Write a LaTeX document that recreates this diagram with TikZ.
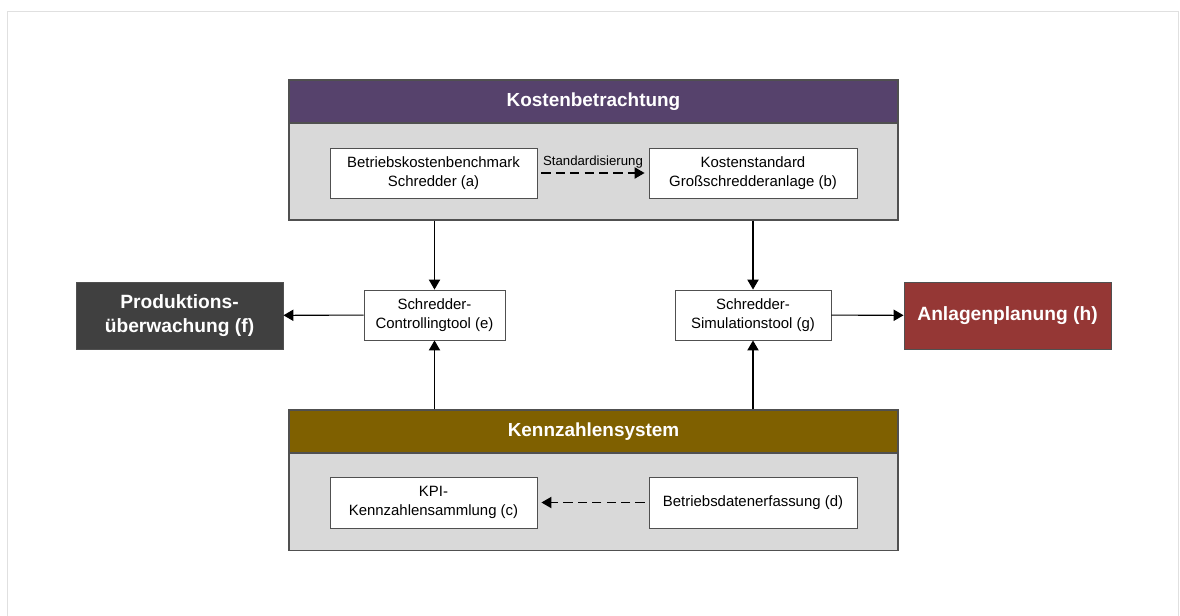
\documentclass[tikz,border=0pt]{standalone}
\usepackage{fontspec}
\setmainfont{Liberation Sans}
\usetikzlibrary{arrows.meta}

\definecolor{hdrpurple}{HTML}{56426C}
\definecolor{hdrbrown}{HTML}{7F6000}
\definecolor{grpfill}{HTML}{D9D9D9}
\definecolor{darkbox}{HTML}{404040}
\definecolor{redbox}{HTML}{953735}
\definecolor{edge}{HTML}{505050}
\definecolor{frame}{HTML}{E0E0E0}

\tikzset{
  grpbody/.style={draw=edge, line width=1pt, fill=grpfill, minimum width=456.75pt, minimum height=105pt, inner sep=0pt},
  grphead/.style={draw=edge, line width=1pt, minimum width=456.75pt, minimum height=32.25pt, inner sep=0pt,
    text=white, font=\fontsize{14.2}{18}\selectfont\bfseries},
  itembox/.style={draw=edge, line width=0.7pt, fill=white, minimum height=37.5pt, inner sep=0pt,
    align=center, font=\fontsize{11.2}{14.3}\selectfont},
  outbox/.style={draw=edge, line width=0.7pt, minimum width=155.25pt, minimum height=50.25pt, inner sep=0pt,
    align=center, text=white, font=\fontsize{14.4}{18}\selectfont\bfseries},
  arr/.style={line width=0.8pt, -{Triangle[length=7.5pt,width=8.5pt]}},
  dasharr/.style={arr, dash pattern=on 6.8pt off 4pt},
}

\begin{document}
\begin{tikzpicture}[x=0.75pt,y=-0.75pt]
  \useasboundingbox (0,0) rectangle (1180,615);
  % outer frame
  \draw[frame, line width=1.2pt] (7.5,616) -- (7.5,11.5) -- (1178.5,11.5) -- (1178.5,616);

  % cost group
  \node[grpbody] (kgrp) at (593.5,150) {};
  \node[grphead, fill=hdrpurple] (khead) at (593.5,101.5) {Kostenbetrachtung};
  \node[itembox, minimum width=155.25pt] (a) at (433.5,173) {Betriebskostenbenchmark\\Schredder (a)};
  \node[itembox, minimum width=156pt] (b) at (753,173) {Kostenstandard\\Großschredderanlage (b)};

  % KPI group
  \node[grpbody] (sgrp) at (593.5,480.5) {};
  \node[grphead, fill=hdrbrown] (shead) at (593.5,431.5) {Kennzahlensystem};
  \node[itembox, minimum width=155.25pt, minimum height=38.25pt] (c) at (433.5,502.5) {KPI-\\Kennzahlensammlung (c)};
  \node[itembox, minimum width=156pt, minimum height=38.25pt] (d) at (753,502.5) {Betriebsdatenerfassung (d)};

  % tools
  \node[itembox, minimum width=105.75pt] (e) at (434.5,315) {Schredder-\\Controllingtool (e)};
  \node[itembox, minimum width=117pt] (g) at (753,315) {Schredder-\\Simulationstool (g)};

  % outputs
  \node[outbox, fill=darkbox] (f) at (179.5,315.5) {Produktions-\\überwachung (f)};
  \node[outbox, fill=redbox] (h) at (1007.5,315.5) {Anlagenplanung (h)};

  % connectors
  \draw[dasharr, shorten <=3pt, shorten >=3pt] (a) -- node[above=3pt, inner sep=0pt, font=\fontsize{9.9}{12}\selectfont] (std) {Standardisierung} (b);
  \draw[dasharr, shorten <=3pt, shorten >=3pt] (d) -- (c);
  \draw[arr] (e.north |- kgrp.south) -- (e.north);
  \draw[arr] (g.north |- kgrp.south) -- (g.north);
  \draw[arr] (e.south |- shead.north) -- (e.south);
  \draw[arr] (g.south |- shead.north) -- (g.south);
  \draw[arr] (e) -- (f);
  \draw[arr] (g) -- (h);
\end{tikzpicture}
\end{document}
